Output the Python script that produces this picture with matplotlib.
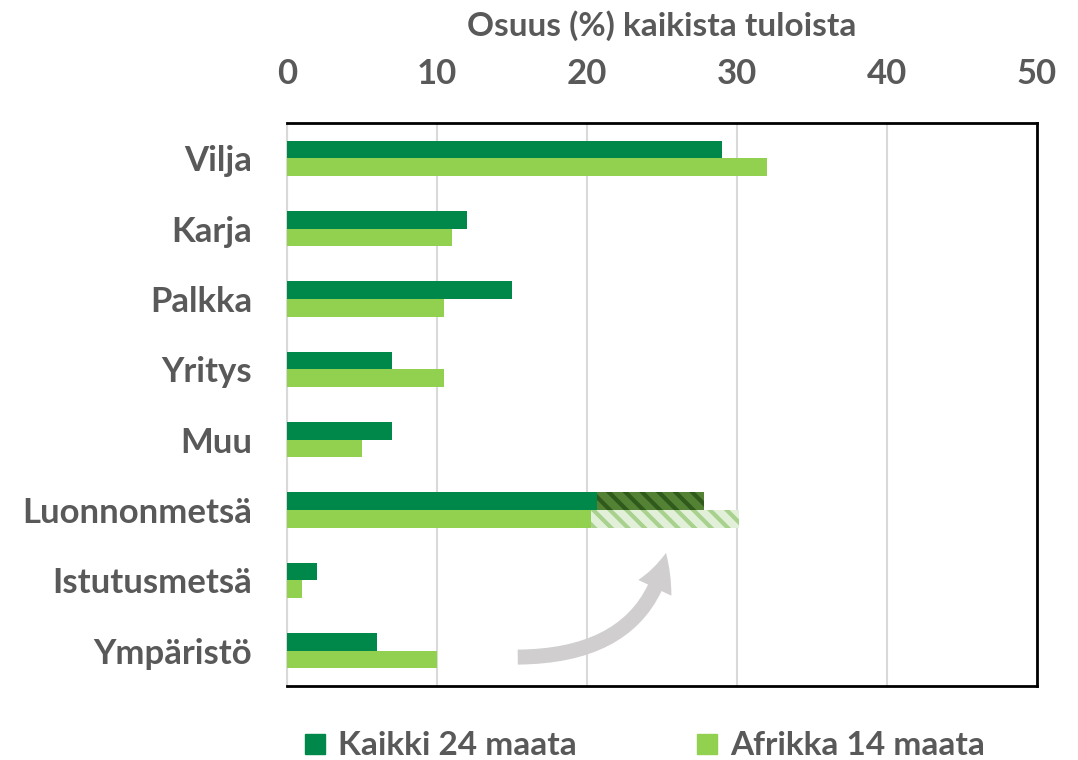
import matplotlib
matplotlib.use("Agg")
import matplotlib.pyplot as plt
from matplotlib.patches import FancyArrowPatch
import numpy as np

plt.rcParams['font.family'] = ['Lato', 'DejaVu Sans']
plt.rcParams['font.weight'] = 'bold'
plt.rcParams['hatch.linewidth'] = 3

# data
luokat = ['Vilja', 'Karja', 'Palkka', 'Yritys', 'Muu', 'Luonnonmetsä', 'Istutusmetsä', 'Ympäristö']
kaikki = [29, 12, 15, 7, 7, 20.7, 2, 6]
afrikka = [32, 11, 10.5, 10.5, 5, 20.3, 1, 10]
# extra (hatched) part for natural forest
kaikki_lisa = [0, 0, 0, 0, 0, 7.1, 0, 0]
afrikka_lisa = [0, 0, 0, 0, 0, 9.8, 0, 0]
sarjat = ['Kaikki 24 maata', 'Afrikka 14 maata']
xticks = [0, 10, 20, 30, 40, 50]

tumma = '#00884a'
vaalea = '#92d050'
harmaa = '#595959'

fig = plt.figure(figsize=(10.78, 7.6), dpi=100)
ax = fig.add_axes([0.2662, 0.0974, 0.6958, 0.7408])

y = np.arange(len(luokat))
h = 0.25
ax.barh(y - h/2, kaikki, height=h, color=tumma, label=sarjat[0], zorder=3)
ax.barh(y + h/2, afrikka, height=h, color=vaalea, label=sarjat[1], zorder=3)

# hatched extensions
ax.barh(y - h/2, kaikki_lisa, left=kaikki, height=h, color='#548235',
        edgecolor='#2f5a1c', hatch='\\\\', linewidth=0, zorder=3)
ax.barh(y + h/2, afrikka_lisa, left=afrikka, height=h, color='#e2f0d9',
        edgecolor='#a9d18e', hatch='\\\\', linewidth=0, zorder=3)

ax.set_xlim(0, 50)
ax.set_ylim(len(luokat) - 0.5, -0.5)
ax.set_xticks(xticks)
ax.set_yticks(y)
ax.set_yticklabels(luokat, fontweight='bold')
ax.set_xticklabels([str(v) for v in xticks], fontweight='bold')
ax.xaxis.tick_top()
ax.xaxis.set_label_position('top')
ax.tick_params(axis='x', length=0, pad=24, labelsize=25, labelcolor=harmaa)
ax.tick_params(axis='y', length=0, pad=25, labelsize=25, labelcolor=harmaa)
ax.set_xlabel('Osuus (%) kaikista tuloista', fontsize=24, color=harmaa, labelpad=16,
              fontweight='bold')

ax.grid(axis='x', color='#d9d9d9', lw=1.5, zorder=0)
for s in ['top', 'right', 'bottom']:
    ax.spines[s].set_color('black')
    ax.spines[s].set_linewidth(2)
ax.spines['left'].set_color('#d9d9d9')
ax.spines['left'].set_linewidth(1.5)

# grey curved arrow
nuoli = FancyArrowPatch((15.2, 7.09), (25.3, 5.57), connectionstyle='angle3,angleA=0,angleB=80',
                        arrowstyle='simple,head_length=2.2,head_width=2.2,tail_width=0.9',
                        mutation_scale=12, color='#d0cece', lw=0, zorder=4)
ax.add_patch(nuoli)

kahvat = [plt.Line2D([], [], marker='s', ls='', color=tumma, markersize=15),
          plt.Line2D([], [], marker='s', ls='', color=vaalea, markersize=15)]
leg = fig.legend(kahvat, sarjat, loc='lower center', bbox_to_anchor=(0.595, -0.04), ncol=2,
                 frameon=False, prop={'size': 24, 'weight': 'bold'}, columnspacing=3.4,
                 handletextpad=0.2, handlelength=1.0)
for t in leg.get_texts():
    t.set_color(harmaa)

fig.savefig('out.png', dpi=100)
